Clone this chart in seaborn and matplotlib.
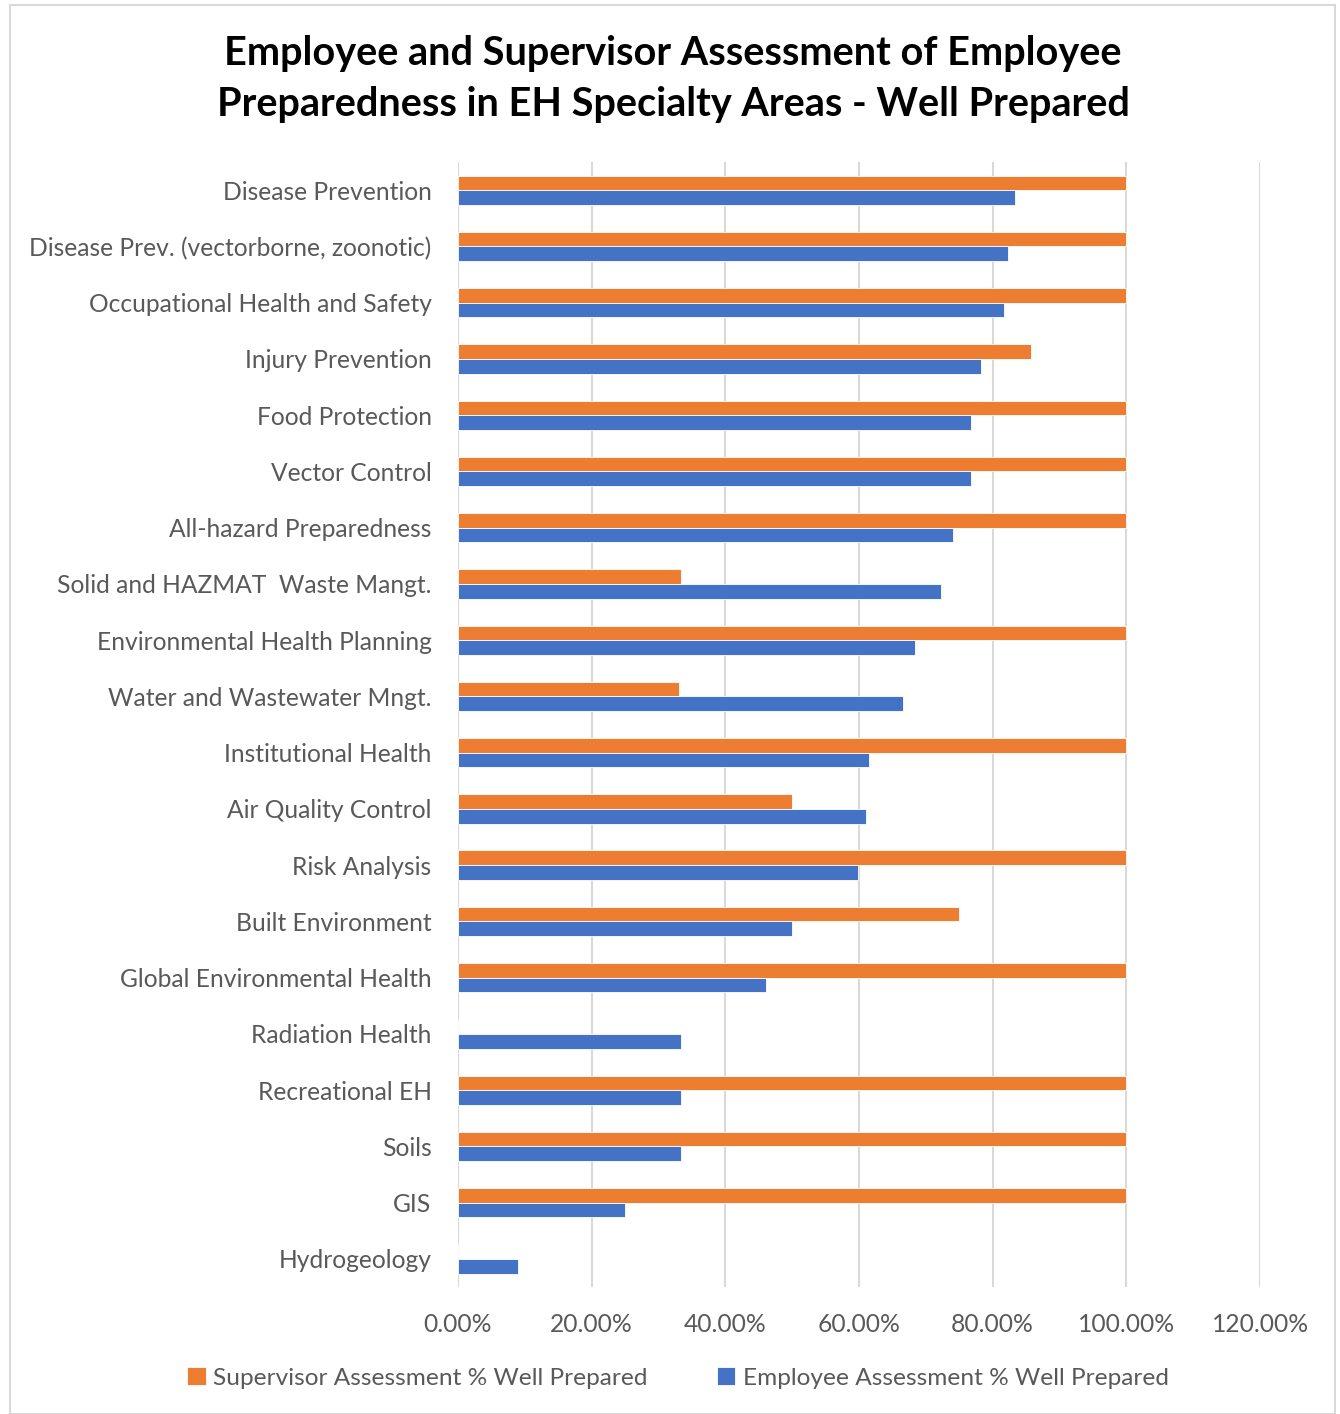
import matplotlib
matplotlib.use("Agg")
import matplotlib.pyplot as plt
import seaborn as sns
import pandas as pd
from matplotlib.ticker import FuncFormatter, MultipleLocator
from matplotlib.patches import Rectangle

categories = [
    "Disease Prevention",
    "Disease Prev. (vectorborne, zoonotic)",
    "Occupational Health and Safety",
    "Injury Prevention",
    "Food Protection",
    "Vector Control",
    "All-hazard Preparedness",
    "Solid and HAZMAT  Waste Mangt.",
    "Environmental Health Planning",
    "Water and Wastewater Mngt.",
    "Institutional Health",
    "Air Quality Control",
    "Risk Analysis",
    "Built Environment",
    "Global Environmental Health",
    "Radiation Health",
    "Recreational EH",
    "Soils",
    "GIS",
    "Hydrogeology",
]
supervisor = [100, 100, 100, 85.71, 100, 100, 100, 33.33, 100, 33.0, 100, 50, 100, 75, 100, 0, 100, 100, 100, 0]
employee = [83.4, 82.3, 81.7, 78.3, 76.8, 76.8, 74.0, 72.2, 68.4, 66.6, 61.5, 61.1, 59.9, 50.0, 46.1, 33.3, 33.3, 33.3, 25.0, 9.0]
series_names = ["Supervisor Assessment % Well Prepared", "Employee Assessment % Well Prepared"]

df = pd.DataFrame({
    "Category": categories * 2,
    "Value": supervisor + employee,
    "Series": [series_names[0]] * len(categories) + [series_names[1]] * len(categories),
})

sns.set_theme(style="white")
plt.rcParams["font.family"] = ["Lato", "DejaVu Sans"]

fig = plt.figure(figsize=(13.4, 14.14), dpi=100)
ax = fig.add_axes([458 / 1340, 1 - 1287 / 1414, (1260 - 458) / 1340, (1287 - 162) / 1414])

sns.barplot(
    data=df, y="Category", x="Value", hue="Series", hue_order=series_names,
    order=categories, orient="h", width=0.52, saturation=1,
    palette=["#ED7D31", "#4472C4"], ax=ax, legend=True,
    edgecolor="white", linewidth=0.6, zorder=3,
)

ax.set_xlim(0, 120)
ax.xaxis.set_major_locator(MultipleLocator(20))
ax.xaxis.set_major_formatter(FuncFormatter(lambda v, p: f"{v:.2f}%"))
ax.grid(axis="x", color="#D9D9D9", linewidth=1.5, zorder=0)
ax.set_axisbelow(True)
for s in ax.spines.values():
    s.set_visible(False)
ax.set_xlabel("")
ax.set_ylabel("")
ax.tick_params(axis="y", length=0, pad=19, labelsize=17.7, labelcolor="#595959")
ax.tick_params(axis="x", length=0, pad=19, labelsize=17.7, labelcolor="#595959")

handles, labels = ax.get_legend_handles_labels()
ax.get_legend().remove()
fig.legend(handles, labels, loc="center", bbox_to_anchor=(678 / 1340, 1 - 1378 / 1414),
           ncol=2, frameon=False, fontsize=17.6, labelcolor="#595959",
           handlelength=0.75, handleheight=0.75, handletextpad=0.3, columnspacing=2.85)

fig.text(673 / 1340, 1 - 79 / 1414,
         "Employee and Supervisor Assessment of Employee\nPreparedness in EH Specialty Areas - Well Prepared",
         ha="center", va="center", fontsize=28.5, fontweight="bold", color="black", linespacing=1.45)

fig.patches.append(Rectangle((10 / 1340, 0), 1325 / 1340, 1 - 5 / 1414, transform=fig.transFigure,
                             fill=False, edgecolor="#D9D9D9", linewidth=1.5))

fig.savefig("out.png", dpi=100, facecolor="white")
